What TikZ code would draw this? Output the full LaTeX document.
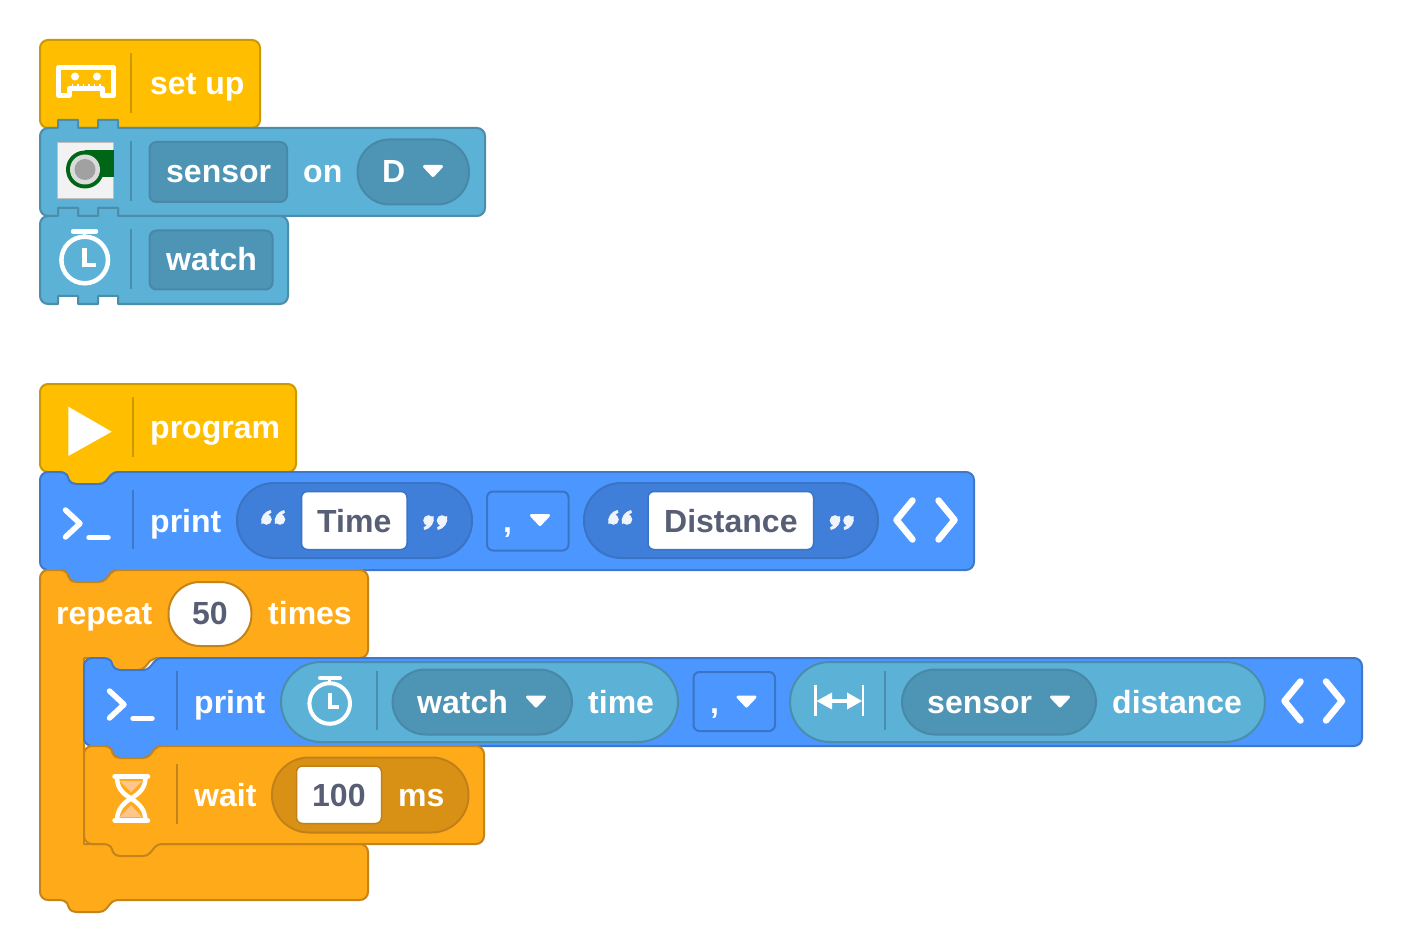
\documentclass[tikz,border=0pt]{standalone}
\usepackage{fontspec}
\setmainfont{Liberation Sans}
\definecolor{hatF}{HTML}{FFBF00}\definecolor{hatS}{HTML}{CC9900}
\definecolor{senF}{HTML}{5CB1D6}\definecolor{senS}{HTML}{4A8EAB}
\definecolor{senD}{HTML}{4E94B4}\definecolor{senE}{HTML}{4789A7}
\definecolor{bluF}{HTML}{4C97FF}\definecolor{bluS}{HTML}{3F78C9}
\definecolor{bluD}{HTML}{3F7FD9}\definecolor{bluE}{HTML}{3A74C4}
\definecolor{orgF}{HTML}{FFAB19}\definecolor{orgS}{HTML}{C4841A}
\definecolor{orgD}{HTML}{D99115}\definecolor{orgE}{HTML}{C28118}
\definecolor{ink}{HTML}{575E75}
\def\TL#1#2{(#1,#2+8) .. controls (#1,#2+3.6) and (#1+3.6,#2) .. (#1+8,#2)}
\def\TR#1#2{-- (#1-8,#2) .. controls (#1-3.6,#2) and (#1,#2+3.6) .. (#1,#2+8)}
\def\BR#1#2{-- (#1,#2-8) .. controls (#1,#2-3.6) and (#1-3.6,#2) .. (#1-8,#2)}
\def\BL#1#2{-- (#1+8,#2) .. controls (#1+3.6,#2) and (#1,#2-3.6) .. (#1,#2-8) -- cycle}
% notch/bump running left to right at block-left x=#1, edge y=#2
\def\DIPR#1#2{-- (#1+20,#2) .. controls (#1+23,#2) and (#1+25,#2+1) .. (#1+27,#2+3) -- (#1+29,#2+8) .. controls (#1+31,#2+11) and (#1+33,#2+12) .. (#1+36,#2+12) -- (#1+59,#2+12) .. controls (#1+62,#2+12) and (#1+64,#2+11) .. (#1+66,#2+9) -- (#1+71,#2+3) .. controls (#1+73,#2+1) and (#1+75,#2) .. (#1+78,#2)}
% same, running right to left
\def\DIPL#1#2{-- (#1+78,#2) .. controls (#1+75,#2) and (#1+73,#2+1) .. (#1+71,#2+3) -- (#1+66,#2+9) .. controls (#1+64,#2+11) and (#1+62,#2+12) .. (#1+59,#2+12) -- (#1+36,#2+12) .. controls (#1+33,#2+12) and (#1+31,#2+11) .. (#1+29,#2+8) -- (#1+27,#2+3) .. controls (#1+25,#2+1) and (#1+23,#2) .. (#1+20,#2)}
\def\TABT#1{-- (58,#1) -- (58,#1-8) -- (78,#1-8) -- (78,#1) -- (98,#1) -- (98,#1-8) -- (118,#1-8) -- (118,#1)}
\def\TABB#1{-- (118,#1) -- (118,#1-8) -- (98,#1-8) -- (98,#1) -- (78,#1) -- (78,#1-8) -- (58,#1-8) -- (58,#1)}
\newcommand\divider[4]{\draw[#4,line width=2pt] (#1,#2) -- (#1,#3);}
\newcommand\dropdown[2]{\fill[white,draw=white,line width=3pt,line join=round] (#1-8.5,#2-4.5) -- (#1+8.5,#2-4.5) -- (#1,#2+4.5) -- cycle;}
\newcommand\chevrons[3]{%
 \draw[iconline,line width=6.5pt] (#1+16,#3-19.5) -- (#1,#3) -- (#1+16,#3+19.5);
 \draw[iconline,line width=6.5pt] (#2-16,#3-19.5) -- (#2,#3) -- (#2-16,#3+19.5);}
\newcommand\promptico[2]{\begin{scope}[shift={(#1,#2)}]
 \draw[iconline,line width=5.5pt] (0,-13.5) -- (14.5,0) -- (0,13.5);
 \draw[iconline,line width=5.5pt] (23.5,14) -- (42.5,14);
\end{scope}}
\newcommand\onequote[2]{\fill[white,opacity=.92,shift={(#1,#2)},xscale=1,yscale=1]
 (5.5,9.5) circle[radius=5.3]
 (0.3,14) .. controls (-0.5,7) and (3,1.5) .. (9.5,0) -- (10.5,2.4) .. controls (6,5) and (5,8) .. (6,12) -- cycle;}
\newcommand\closequote[2]{\begin{scope}[shift={(#1,#2)},xscale=-1,yscale=-1]
 \fill[white,opacity=.92] (5.5,9.5) circle[radius=5.3]
 (0.3,14) .. controls (-0.5,7) and (3,1.5) .. (9.5,0) -- (10.5,2.4) .. controls (6,5) and (5,8) .. (6,12) -- cycle;
\end{scope}}
\tikzset{
 x=1pt,y=-1pt,
 lbl/.style={anchor=base west,inner sep=0pt,font=\fontsize{32}{36}\selectfont\bfseries,text=white},
 val/.style={lbl,text=ink},
 iconline/.style={draw=white,line cap=round,line join=round},
 hatblock/.style={fill=hatF,draw=hatS,line width=2pt,line join=round},
 senblock/.style={fill=senF,draw=senS,line width=2pt,line join=round},
 blublock/.style={fill=bluF,draw=bluS,line width=2pt,line join=round},
 orgblock/.style={fill=orgF,draw=orgS,line width=2pt,line join=round},
}
\begin{document}
\begin{tikzpicture}
\useasboundingbox (0,0) rectangle (1401,952);
\fill[white] (0,0) rectangle (1401,952);
% ---------- set up stack
\draw[hatblock] \TL{40}{40} \TR{260}{40} \BR{260}{128} \BL{40}{128};
\divider{131}{53}{113}{hatS}
\draw[white,line width=5pt,line join=round] (58.5,67.5) -- (113.5,67.5) -- (113.5,95.5) -- (102.5,95.5) -- (102.5,88.5) -- (69.5,88.5) -- (69.5,95.5) -- (58.5,95.5) -- cycle;
\fill[white] (75,76.5) circle[radius=4] (97,76.5) circle[radius=4];
\foreach \tx in {72.5,78,83.5,89,94.5,100}{\draw[white,line width=1.2pt] (\tx,84.5) -- (\tx,88);}
\node[lbl] (setup) at (150,95) {set up};

\draw[senblock] \TL{40}{128} \TABT{128} \TR{485}{128} \BR{485}{216} \TABB{216} \BL{40}{216};
\fill[black!5,draw=black!25,line width=.8pt] (57,142) rectangle (113.5,198);
\fill[black!85!blue!60!green] (85,150.5) rectangle (113.5,177);
\fill[black!85!blue!60!green] (85,169.5) circle[radius=19];
\fill[black!14] (85,169.5) circle[radius=15];
\fill[black!37] (85,169.5) circle[radius=10.5];
\divider{131}{141}{201}{senS}
\draw[fill=senD,draw=senE,line width=2pt,rounded corners=7pt] (149.5,142) rectangle (287,202);
\node[lbl] (sensorA) at (166,183) {sensor};
\node[lbl] (onA) at (303,183) {on};
\draw[fill=senD,draw=senE,line width=2pt,rounded corners=32pt] (357.5,139.5) rectangle (469,204.5);
\node[lbl] (portD) at (382,183) {D};
\dropdown{433}{171}

\draw[senblock] \TL{40}{216} \TABT{216} \TR{288}{216} \BR{288}{304} \TABB{304} \BL{40}{304};
\divider{131}{229}{289}{senS}
\draw[white,line width=4.5pt] (84.7,260) circle[radius=23.3];
\draw[white,line width=4.5pt,line cap=round] (73,231.5) -- (96,231.5);
\draw[white,line width=3pt] (84.7,232) -- (84.7,237);
\draw[white,line width=4.7pt,line join=miter] (84.7,248) -- (84.7,265) -- (96,265);
\draw[fill=senD,draw=senE,line width=2pt,rounded corners=7pt] (149.5,230.5) rectangle (272.5,289.5);
\node[lbl] (watchA) at (166,271) {watch};

% ---------- program stack
\draw[hatblock] \TL{40}{384} \TR{296}{384} \BR{296}{472} \DIPL{40}{472} \BL{40}{472};
\divider{133}{397}{456.5}{hatS}
\fill[white] (68.3,406.7) -- (111.7,431.7) -- (68.3,456) -- cycle;
\node[lbl] (program) at (150,438.5) {program};

\draw[blublock] \TL{40}{472} \DIPR{40}{472} \TR{974}{472} \BR{974}{570} \DIPL{40}{570} \BL{40}{570};
\promptico{65.5}{523.5}
\divider{133}{490}{549}{bluS}
\node[lbl] (printA) at (150,532) {print};
\draw[fill=bluD,draw=bluE,line width=2pt,rounded corners=37pt] (237,483) rectangle (472,558);
\onequote{261}{510}\onequote{274.5}{510}
\draw[fill=white,draw=bluE,line width=1.5pt,rounded corners=6pt] (301.5,491.5) rectangle (407,549.5);
\node[val] (time) at (317,532) {Time};
\closequote{434}{530}\closequote{447.5}{530}
\draw[fill=bluF,draw=bluE,line width=2pt,rounded corners=6pt] (487,491.5) rectangle (568.5,550.5);
\node[lbl] (commaA) at (503,532) {,};
\dropdown{540}{520}
\draw[fill=bluD,draw=bluE,line width=2pt,rounded corners=37pt] (584,483) rectangle (878,558);
\onequote{608}{510}\onequote{621.5}{510}
\draw[fill=white,draw=bluE,line width=1.5pt,rounded corners=6pt] (648,491.5) rectangle (813.5,549.5);
\node[val] (distance) at (664,532) {Distance};
\closequote{840.5}{530}\closequote{854}{530}
\chevrons{896.5}{954.5}{520}

% ---------- repeat
\draw[orgblock] \TL{40}{570} \DIPR{40}{570} \TR{368}{570} \BR{368}{658} -- (159,658) .. controls (155,658) and (153,659) .. (150,661) -- (145,667) .. controls (143,669) and (141,670) .. (138,670) -- (120,670) .. controls (117,670) and (115,669) .. (113,667) -- (108,661) .. controls (105,659) and (103,658) .. (100,658) -- (84,658) -- (84,844) \TR{368}{844} \BR{368}{900} \DIPL{40}{900} \BL{40}{900};
\node[lbl] (repeat) at (56,624) {repeat};
\draw[fill=white,draw=orgS,line width=2pt,rounded corners=31.5pt] (168.5,582) rectangle (251.5,646);
\node[val] (fifty) at (192,624.5) {50};
\node[lbl] (times) at (268,624) {times};

% ---------- print inside repeat
\draw[blublock] \TL{84}{658} \DIPR{84}{658} \TR{1362}{658} \BR{1362}{746} \DIPL{84}{746} \BL{84}{746};
\promptico{109.5}{704.5}
\divider{177}{671}{730}{bluS}
\node[lbl] (printB) at (194,713) {print};
\draw[fill=senF,draw=senS,line width=2pt,rounded corners=40pt] (281,662) rectangle (678,742);
\draw[white,line width=4pt] (329.7,703.5) circle[radius=20.3];
\draw[white,line width=4pt,line cap=round] (320,678) -- (340,678);
\draw[white,line width=3pt] (329.7,679) -- (329.7,684);
\draw[white,line width=4pt,line join=miter] (329.7,693.3) -- (329.7,707) -- (339,707);
\divider{376.5}{671}{730}{senS}
\draw[fill=senD,draw=senE,line width=2pt,rounded corners=33pt] (392.5,669.5) rectangle (572,734.5);
\node[lbl] (watchB) at (417,713) {watch};
\dropdown{536}{701.5}
\node[lbl] (timeB) at (588,713) {time};
\draw[fill=bluF,draw=bluE,line width=2pt,rounded corners=6pt] (693.5,672) rectangle (775,731);
\node[lbl] (commaB) at (710,713) {,};
\dropdown{746.5}{701.5}
\draw[fill=senF,draw=senS,line width=2pt,rounded corners=40pt] (790,662) rectangle (1265,742);
\draw[white,line width=2.5pt] (815.5,685) -- (815.5,716) (863,685) -- (863,716);
\draw[white,line width=3.5pt] (825,701) -- (853,701);
\fill[white] (816.5,701) -- (832,692.5) -- (832,709.5) -- cycle (862,701) -- (847,692.5) -- (847,709.5) -- cycle;
\divider{885}{671}{730}{senS}
\draw[fill=senD,draw=senE,line width=2pt,rounded corners=33pt] (902,669.5) rectangle (1096,734.5);
\node[lbl] (sensorB) at (927,713) {sensor};
\dropdown{1060}{701.5}
\node[lbl] (distB) at (1112,713) {distance};
\chevrons{1284.5}{1342}{701}

% ---------- wait
\draw[orgblock] \TL{84}{746} \DIPR{84}{746} \TR{484}{746} \BR{484}{844} \DIPL{84}{844} \BL{84}{844};
\fill[orange!45!white] (120,781) -- (142,781) -- (131,792) -- cycle (131,805) -- (142,817) -- (120,817) -- cycle;
\draw[white,line width=4.5pt] (117,778) .. controls (117.5,788) and (122,793) .. (131,798.5) .. controls (140,804) and (145,810) .. (145.5,820);
\draw[white,line width=4.5pt] (145.5,778) .. controls (145,788) and (140,793) .. (131,798.5) .. controls (122,804) and (117.5,810) .. (117,820);
\draw[iconline,line width=5.5pt] (115,776.5) -- (147.5,776.5) (115,820.5) -- (147.5,820.5);
\divider{177}{764}{824}{orgS}
\node[lbl] (wait) at (194,806) {wait};
\draw[fill=orgD,draw=orgE,line width=2pt,rounded corners=37pt] (272,757.5) rectangle (468.5,832.5);
\draw[fill=white,draw=orgE,line width=1.5pt,rounded corners=6pt] (296.5,766) rectangle (381.5,823.5);
\node[val] (hundred) at (312,806) {100};
\node[lbl] (ms) at (398,806) {ms};
\end{tikzpicture}
\end{document}
